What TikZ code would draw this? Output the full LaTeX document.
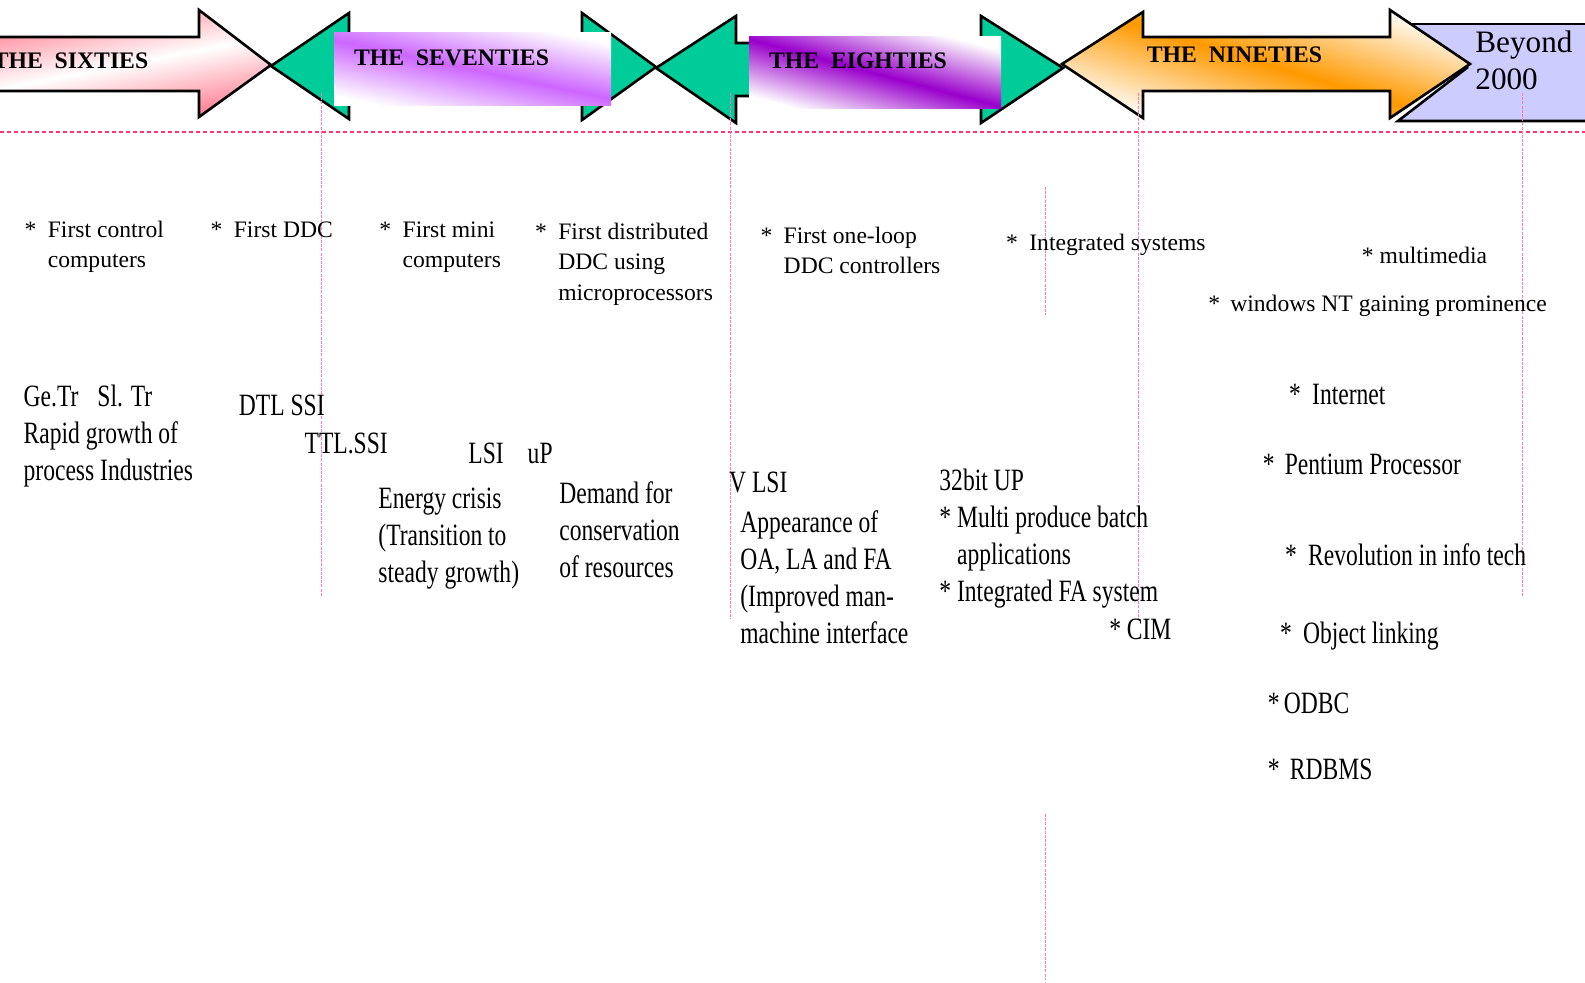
\documentclass[tikz,border=0pt]{standalone}
\usepackage{fontspec}
\setmainfont{Liberation Serif}
\newfontfamily\condensed[FakeStretch=0.76]{Liberation Serif}

\definecolor{sixtiespink}{RGB}{255,120,140}
\definecolor{seaturquoise}{RGB}{0,204,153}
\definecolor{seventiesviolet}{RGB}{204,102,255}
\definecolor{eightiesviolet}{RGB}{153,0,204}
\definecolor{ninetiesorange}{RGB}{255,153,0}
\definecolor{lavenderpanel}{RGB}{204,204,255}
\definecolor{guidepink}{RGB}{255,120,180}
\definecolor{rulepink}{RGB}{255,51,120}

\newcommand{\stack}[1]{\begin{tabular}[t]{@{}l@{}}#1\end{tabular}}
\newcommand{\bul}[1][11.6pt]{\makebox[#1][l]{*}}

\tikzset{
  outline/.style={draw=black, line width=1.3pt, line join=miter},
  era/.style={font=\fontsize{11.85}{14}\selectfont\bfseries, inner sep=0pt},
  toptext/.style={font=\fontsize{11.8}{15.2}\selectfont, inner sep=0pt, anchor=base west},
  lowtext/.style={font=\condensed\fontsize{15.5}{18.5}\selectfont, inner sep=0pt, anchor=base west},
  guide/.style={draw=guidepink, line width=0.5pt, dash pattern=on 1.5pt off 0.6pt},
  timeline/.style={draw=rulepink, line width=0.75pt, dash pattern=on 2pt off 1.5pt},
}

\begin{document}
\begin{tikzpicture}[x=0.5pt,y=-0.5pt]
\useasboundingbox (0,0) rectangle (1585,983);

% ---- Beyond 2000 panel (behind the nineties arrow)
\fill[lavenderpanel] (1405,24) -- (1600,24) -- (1600,121) -- (1398,121) -- (1468,67) -- cycle;
\draw[outline] (1405,24) -- (1600,24);
\draw[outline] (1600,121) -- (1398,121) -- (1468,67);

% ---- Sixties arrow
\draw[outline, top color=sixtiespink, bottom color=sixtiespink, middle color=white, shading angle=11]
  (-10,37) -- (199,37) -- (199,10) -- (271,65) -- (199,117) -- (199,91) -- (-10,91) -- cycle;

% ---- Seventies double arrow with its banner
\draw[outline, fill=seaturquoise]
  (271,66) -- (349,13) -- (349,39) -- (582,39) -- (582,13) -- (656,67)
  -- (582,120) -- (582,94) -- (349,94) -- (349,119) -- cycle;
\shade[top color=white, bottom color=white, middle color=seventiesviolet, shading angle=-12]
  (334,33) rectangle (611,106);

% ---- Eighties double arrow with its banner
\draw[outline, fill=seaturquoise]
  (656,68) -- (736,16) -- (736,43) -- (981,43) -- (981,16) -- (1063,68)
  -- (981,123) -- (981,96) -- (736,96) -- (736,123) -- cycle;
\shade[top color=white, bottom color=white, middle color=eightiesviolet, shading angle=-15]
  (749,37) rectangle (1001,109);

% ---- Nineties double arrow
\draw[outline, top color=white, bottom color=white, middle color=ninetiesorange, shading angle=-17]
  (1062,64) -- (1143,12) -- (1143,37) -- (1390,37) -- (1390,10) -- (1470,64)
  -- (1390,118) -- (1390,91) -- (1143,91) -- (1143,118) -- cycle;

% ---- era titles
\node[era] (sixties)   at (70.5,61)  {THE\ \ SIXTIES};
\node[era] (seventies) at (451.5,58) {THE\ \ SEVENTIES};
\node[era] (eighties)  at (858,61)   {THE\ \ EIGHTIES};
\node[era] (nineties)  at (1234.5,55){THE\ \ NINETIES};
\node[font=\fontsize{15.6}{18.5}\selectfont, inner sep=0pt, anchor=base west] (beyond)
  at (1475,53) {\stack{Beyond\\2000}};

% ---- timeline rule and period guides
\draw[timeline] (0,132) -- (1585,132);
\draw[guide] (321,93) -- (321,596);
\draw[guide] (730,93) -- (730,619);
\draw[guide] (1045,187) -- (1045,315);
\draw[guide] (1045,814) -- (1045,980);
\draw[guide] (1138,93) -- (1138,619);
\draw[guide] (1522,93) -- (1522,597);

% ---- milestones and technology notes
\begin{scope}[scale=1.0108]
  \node[toptext] (m1) at (24,235)  {\stack{\bul First control\\\hspace{11.6pt}computers}};
  \node[toptext] (m2) at (208,235) {\bul First DDC};
  \node[toptext] (m3) at (375,235) {\stack{\bul First mini\\\hspace{11.6pt}computers}};
  \node[toptext] (m4) at (529,237) {\stack{\bul First distributed\\\hspace{11.6pt}DDC using\\\hspace{11.6pt}microprocessors}};
  \node[toptext] (m5) at (752,241) {\stack{\bul First one-loop\\\hspace{11.6pt}DDC controllers}};
  \node[toptext] (m6) at (995,248) {\bul Integrated systems};
  \node[toptext] (m7) at (1347,261) {* multimedia};
  \begin{scope}
    \clip (1180,280) rectangle (1529,330);
    \node[toptext] (m8) at (1195,308) {\bul[11pt]windows NT gaining prominence};
  \end{scope}

  \node[lowtext] (n1) at (23,402) {\stack{Ge.Tr\hspace{9.5pt}Sl. Tr\\Rapid growth of\\process Industries}};
  \node[lowtext] (n2) at (236,411) {DTL SSI};
  \node[lowtext] (n3) at (301,449) {TTL.SSI};
  \node[lowtext] (n4) at (463,459) {LSI\hspace{12pt}uP};
  \node[lowtext] (n5) at (374,503) {\stack{Energy crisis\\(Transition to\\steady growth)}};
  \node[lowtext] (n6) at (553,498) {\stack{Demand for\\conservation\\of resources}};
  \node[lowtext] (n7) at (721,487) {V LSI};
  \node[lowtext] (n8) at (732,527) {\stack{Appearance of\\OA, LA and FA\\(Improved man-\\machine interface}};
  \node[lowtext] (n9) at (929,485) {32bit UP};
  \node[lowtext] (n10) at (929,522) {\stack{{*} Multi produce batch\\\phantom{* }applications\\{*} Integrated FA system}};
  \node[lowtext] (n11) at (1097,633) {* CIM};
  \node[lowtext] (n12) at (1275,400) {\bul[11.5pt]Internet};
  \node[lowtext] (n13) at (1249,469) {\bul[11pt]Pentium Processor};
  \node[lowtext] (n14) at (1271,559) {\bul[11.5pt]Revolution in info tech};
  \node[lowtext] (n15) at (1266,637) {\bul[11.5pt]Object linking};
  \node[lowtext] (n16) at (1254,706) {\bul[8pt]ODBC};
  \node[lowtext] (n17) at (1254,771) {\bul[11pt]RDBMS};
\end{scope}
\end{tikzpicture}
\end{document}
